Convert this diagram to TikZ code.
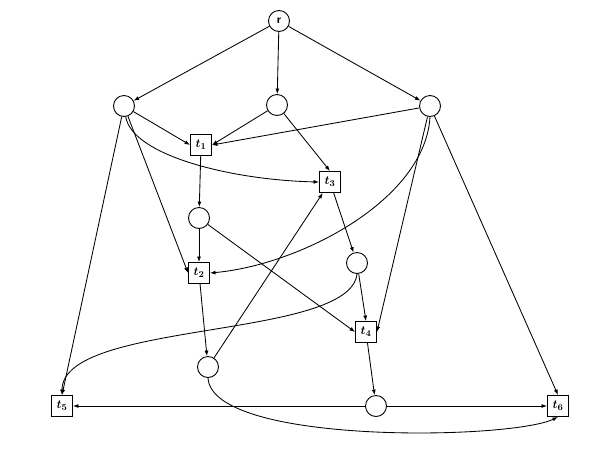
\documentclass[tikz,border=0pt]{standalone}
\usetikzlibrary{arrows.meta}
\begin{document}
\begin{tikzpicture}[x=1pt,y=-1pt,
  place/.style={draw,circle,minimum size=21pt,inner sep=0pt,line width=0.9pt},
  trans/.style={draw,rectangle,minimum size=21pt,inner sep=0pt,line width=0.9pt,font=\boldmath\fontsize{13}{15}\selectfont},
  arc/.style={-{Latex[length=5.5pt,width=4pt]},line width=0.85pt}]
\useasboundingbox (0,0) rectangle (615,456);
\node[place,font=\sffamily\bfseries\fontsize{12}{14}\selectfont] (r) at (279,21) {r};
\node[place] (p1) at (124,106) {};
\node[place] (p2) at (277,105) {};
\node[place] (p3) at (430,106) {};
\node[trans] (t1) at (201,145) {$t_1$};
\node[trans] (t3) at (330,182) {$t_3$};
\node[place] (p4) at (199,218) {};
\node[trans] (t2) at (199,273) {$t_2$};
\node[place] (p5) at (357,263) {};
\node[trans] (t4) at (366,332) {$t_4$};
\node[place] (p6) at (208,367) {};
\node[place] (p7) at (376,406) {};
\node[trans] (t5) at (62,406) {$t_5$};
\node[trans] (t6) at (558,406) {$t_6$};
% from r
\draw[arc] (r) -- (p1);
\draw[arc] (r) -- (p2);
\draw[arc] (r) -- (p3);
% from p1
\draw[arc] (p1) -- (t1.west);
\draw[arc] (p1) .. controls (132,155) and (230,180) .. (t3.west);
\draw[arc] (p1) -- (t2.west);
\draw[arc] (p1) -- (t5.north);
% from p2
\draw[arc] (p2) -- (t1.east);
\draw[arc] (p2) -- (t3.north);
% from p3
\draw[arc] (p3) -- (t1.east);
\draw[arc] (p3.south) .. controls (425,200) and (300,265) .. (t2.east);
\draw[arc] (p3) -- (t4.east);
\draw[arc] (p3) -- (t6.north);
% middle
\draw[arc] (t1) -- (p4);
\draw[arc] (p4) -- (t2);
\draw[arc] (p4) -- (t4.west);
\draw[arc] (t3) -- (p5);
\draw[arc] (p5) -- (t4.north);
\draw[arc] (p5.south) .. controls (350,340) and (62,320) .. (t5.north);
\draw[arc] (t2) -- (p6);
\draw[arc] (p6) -- (t3);
\draw[arc] (t4) -- (p7);
\draw[arc] (p7) -- (t5);
\draw[arc] (p7) -- (t6);
\draw[arc] (p6.south) .. controls (212,445) and (510,440) .. (t6.south);
\end{tikzpicture}
\end{document}
